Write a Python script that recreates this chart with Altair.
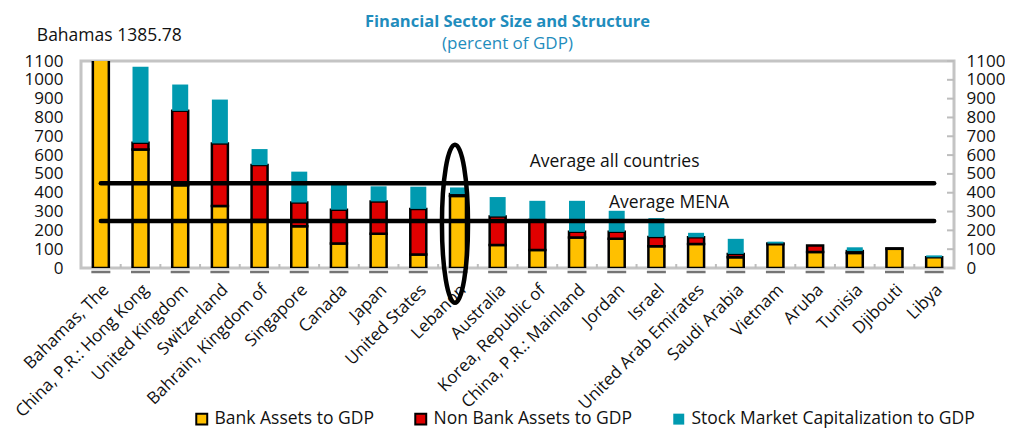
import altair as alt
import pandas as pd

countries = ["Bahamas, The", "China, P.R.: Hong Kong", "United Kingdom", "Switzerland",
             "Bahrain, Kingdom of", "Singapore", "Canada", "Japan", "United States",
             "Lebanon", "Australia", "Korea, Republic of", "China, P.R.: Mainland",
             "Jordan", "Israel", "United Arab Emirates", "Saudi Arabia", "Vietnam",
             "Aruba", "Tunisia", "Djibouti", "Libya"]
bank = [1385.78, 630, 440, 330, 255, 222, 130, 182, 72, 383, 122, 95, 162, 155, 115,
        128, 57, 127, 85, 80, 102, 57]
nonbank = [0, 35, 395, 332, 292, 126, 180, 172, 242, 10, 152, 160, 30, 37, 50,
           35, 18, 3, 35, 10, 2, 0]
stock = [0, 405, 140, 233, 85, 164, 140, 80, 118, 35, 103, 102, 165, 112, 100,
         24, 80, 10, 0, 20, 0, 10]
series = ["Bank Assets to GDP", "Non Bank Assets to GDP", "Stock Market Capitalization to GDP"]
avg_names = ["Average all countries", "Average MENA"]
avg_values = [450, 250]
y_ticks = [0, 100, 200, 300, 400, 500, 600, 700, 800, 900, 1000, 1100]
bahamas_note = "Bahamas 1385.78"

FONT = "Open Sans"
FS = 17.5
FSA = 17
TXT = "#111111"
W, H = 873, 207
YDOM = [0, 1100]

rows = []
for i, c in enumerate(countries):
    for k, (s, vals) in enumerate(zip(series, [bank, nonbank, stock])):
        if vals[i] > 0:
            rows.append({"country": c, "series": s, "value": vals[i], "ord": k})
df = pd.DataFrame(rows)

xscale = alt.Scale(domain=countries, paddingInner=0, paddingOuter=0)
yscale = alt.Scale(domain=YDOM, nice=False, zero=True)

leg = dict(title=None, orient="none", direction="horizontal", legendX=112, legendY=349,
           symbolType="square", symbolSize=120, symbolStrokeWidth=2,
           labelFont=FONT, labelFontSize=FS, labelColor=TXT, labelLimit=400,
           columnPadding=37, labelOffset=4)

bars = alt.Chart(df).mark_bar(size=16, strokeWidth=2.5, clip=True).encode(
    x=alt.X("country:N", scale=xscale, title=None, axis=None),
    y=alt.Y("value:Q", stack="zero", scale=yscale, title=None,
            axis=alt.Axis(values=y_ticks, orient="left", format="d", labelFont=FONT,
                          labelFontSize=FSA, labelColor=TXT, ticks=False, domain=False,
                          grid=False, labelPadding=18, labelOverlap=False, labelFlush=False)),
    color=alt.Color("series:N", scale=alt.Scale(domain=series,
                    range=["#FFC000", "#E00000", "#009AB0"]), legend=alt.Legend(**leg)),
    stroke=alt.Stroke("series:N", scale=alt.Scale(domain=series,
                      range=["#000000", "#000000", "rgba(0,0,0,0)"]), legend=alt.Legend(**leg)),
    order=alt.Order("ord:Q"),
)

base_df = pd.DataFrame({"country": countries, "zero": [0] * len(countries)})

xlabels = alt.Chart(base_df).mark_text(
    angle=315, align="right", baseline="alphabetic", font=FONT, fontSize=FSA, color=TXT,
    xOffset=9, yOffset=23).encode(
    x=alt.X("country:N", scale=xscale, axis=None),
    y=alt.Y("zero:Q", scale=yscale, axis=None),
    text="country:N",
)

dashes = alt.Chart(base_df).mark_tick(size=19, thickness=2.5, color="#3a3a3a", yOffset=4).encode(
    x=alt.X("country:N", scale=xscale, axis=None),
    y=alt.Y("zero:Q", scale=yscale, axis=None),
)

xticks = alt.Chart(base_df.iloc[1:]).mark_rule(color="#bdbdbd", strokeWidth=2).encode(
    x=alt.X("country:N", scale=xscale, axis=None, bandPosition=0),
    y=alt.value(H),
    y2=alt.value(H - 4),
)

rt_df = pd.DataFrame({"t": y_ticks})
rticks = alt.Chart(rt_df).mark_rule(color="#bdbdbd", strokeWidth=2).encode(
    x=alt.value(W - 7),
    x2=alt.value(W),
    y=alt.Y("t:Q", scale=yscale, title=None,
            axis=alt.Axis(values=y_ticks, orient="right", format="d", labelFont=FONT,
                          labelFontSize=FSA, labelColor=TXT, ticks=False, domain=False,
                          grid=False, labelPadding=12, labelOverlap=False, labelFlush=False)),
)

line_rows = []
for n, v in zip(avg_names, avg_values):
    for c in (countries[0], countries[-1]):
        line_rows.append({"name": n, "country": c, "v": v})
lines = alt.Chart(pd.DataFrame(line_rows)).mark_line(
    color="#000", strokeWidth=4.5, strokeCap="round").encode(
    x=alt.X("country:N", scale=xscale, axis=None),
    y=alt.Y("v:Q", scale=yscale, axis=None),
    detail="name:N",
)

lab_all = alt.Chart(pd.DataFrame({"country": [countries[10]], "v": [avg_values[0]],
                                  "t": [avg_names[0]]})).mark_text(
    align="left", baseline="alphabetic", dx=32, dy=-16, font=FONT, fontSize=FS, color=TXT).encode(
    x=alt.X("country:N", scale=xscale, axis=None),
    y=alt.Y("v:Q", scale=yscale, axis=None), text="t:N")
lab_mena = alt.Chart(pd.DataFrame({"country": [countries[12]], "v": [avg_values[1]],
                                   "t": [avg_names[1]]})).mark_text(
    align="left", baseline="alphabetic", dx=32, dy=-13, font=FONT, fontSize=FS, color=TXT).encode(
    x=alt.X("country:N", scale=xscale, axis=None),
    y=alt.Y("v:Q", scale=yscale, axis=None), text="t:N")

note = alt.Chart(pd.DataFrame({"country": [countries[0]], "v": [YDOM[1]],
                               "t": [bahamas_note]})).mark_text(
    align="left", baseline="alphabetic", dx=-64, dy=-20, font=FONT, fontSize=FS, color=TXT).encode(
    x=alt.X("country:N", scale=xscale, axis=None),
    y=alt.Y("v:Q", scale=yscale, axis=None), text="t:N")

ell_shape = "M0,-1A0.165,1,0,1,1,0,1A0.165,1,0,1,1,0,-1Z"
ellipse = alt.Chart(pd.DataFrame({"country": ["Lebanon"], "v": [235]})).mark_point(
    shape=ell_shape, size=158 * 158, filled=False, stroke="#000", strokeWidth=4.5,
    opacity=1, xOffset=-3).encode(
    x=alt.X("country:N", scale=xscale, axis=None),
    y=alt.Y("v:Q", scale=yscale, axis=None),
)

chart = alt.layer(bars, dashes, xticks, rticks, lines, lab_all, lab_mena, note, xlabels,
                  ellipse).properties(
    width=W, height=H,
    autosize=alt.AutoSizeParams(type="none"),
    padding={"left": 73, "top": 53, "right": 51, "bottom": 162},
    title=alt.TitleParams(text="Financial Sector Size and Structure", subtitle="(percent of GDP)",
                          anchor="middle", dx=-10, font=FONT, fontSize=16.5, fontWeight="bold",
                          color="#1f8dbd", subtitleFont=FONT, subtitleFontSize=17,
                          subtitleColor="#1f8dbd", subtitlePadding=6, offset=-25),
).resolve_axis(y="independent").configure_view(stroke="#c4c4c4", strokeWidth=3)

chart.save("out.html", embed_options={"renderer": "svg", "actions": False})
